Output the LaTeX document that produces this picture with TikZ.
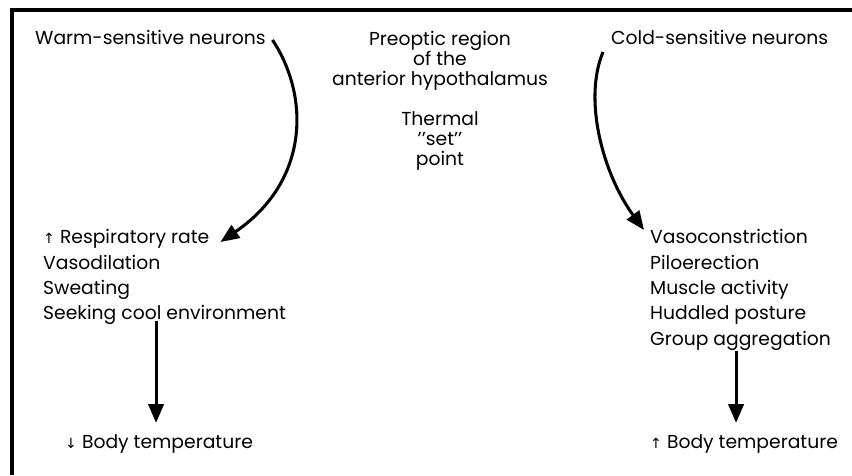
\documentclass[tikz,border=0pt]{standalone}
\usepackage{fontspec}
\setmainfont{Poppins}
\newfontfamily\arrowfont{DejaVu Sans}
\usetikzlibrary{arrows.meta, calc}

\tikzset{
  txt/.style={font=\fontsize{16}{20}\selectfont, inner sep=0pt, anchor=base west},
  mid/.style={txt, anchor=base},
  flow/.style={line width=2.6pt, -{Triangle[length=16pt,width=13pt]}},
}
\newcommand{\uparr}{{\arrowfont\fontsize{12}{12}\selectfont ↑}}
\newcommand{\dnarr}{{\arrowfont\fontsize{12}{12}\selectfont ↓}}

\begin{document}
\begin{tikzpicture}

\useasboundingbox (0,0) rectangle (25.56,14.25);

% Frame (top and left edges only)
\draw[line width=3pt] (0.36,0) -- (0.36,13.95) -- (25.56,13.95);

% Top row
\node[txt] (warm) at (1.05,12.9) {Warm-sensitive neurons};
\node[txt] (cold) at (18.33,12.9) {Cold-sensitive neurons};

% Centre block
\node[mid] (poa1) at (13.2,12.87) {Preoptic region};
\node[mid] (poa2) at (13.2,12.27) {of the};
\node[mid] (poa3) at (13.2,11.67) {anterior hypothalamus};
\node[mid] (set1) at (13.2,10.47) {Thermal};
\node[mid] (set2) at (13.2,9.87) {’’set’’};
\node[mid] (set3) at (13.2,9.27) {point};

% Heat loss responses
\foreach \txt [count=\i from 0] in {{\uparr\ Respiratory rate}, Vasodilation, Sweating, Seeking cool environment}
  \node[txt] (w\i) at (1.29,6.93-0.76*\i) {\txt};

% Heat gain responses
\foreach \txt [count=\i from 0] in {Vasoconstriction, Piloerection, Muscle activity, Huddled posture, Group aggregation}
  \node[txt] (c\i) at (19.5,6.93-0.76*\i) {\txt};

% Results
\node[txt] (wb) at (1.95,0.81) {\dnarr\ Body temperature};
\node[txt] (cb) at (19.5,0.81) {\uparr\ Body temperature};

% Curved arrows
\draw[flow] ($(warm.base east)+(0.2,0.15)$) .. controls +(1.1,-1.65) and +(2.7,1.85) .. ($(w0.base east)+(0.33,0.06)$);
\draw[flow] ($(cold.base west)+(-0.24,-0.21)$) .. controls +(-0.6,-1.44) and +(-1.23,1.68) .. ($(c0.base west)+(-0.18,0.42)$);

% Straight arrows
\draw[flow] ($(w3.south -| wb.north)+(-0.09,0.12)$) -- ($(wb.north)+(-0.09,0.33)$);
\draw[flow] ($(c4.south -| cb.north)+(-0.24,0)$) -- ($(cb.north)+(-0.24,0.33)$);

\end{tikzpicture}
\end{document}
